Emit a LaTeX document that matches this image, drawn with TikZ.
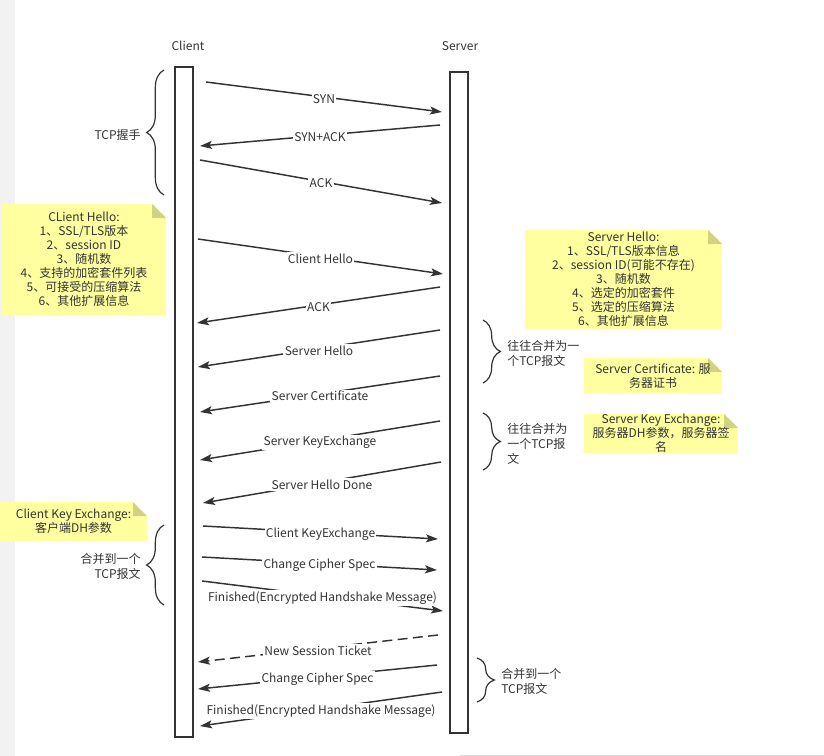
\documentclass[tikz,border=0pt]{standalone}
\usepackage{fontspec}
\setmainfont{Noto Sans CJK SC}
\usetikzlibrary{arrows.meta,decorations.pathreplacing}
\definecolor{ink}{HTML}{333333}
\definecolor{notefill}{HTML}{FFFFA0}
\definecolor{notefold}{HTML}{D2D284}
\definecolor{strip}{HTML}{F2F2F2}

\begin{document}
\begin{tikzpicture}[x=0.75pt, y=-0.75pt,
    font=\fontsize{9}{11}\selectfont, text=ink,
    lifeline/.style={draw=ink, line width=1.1pt, minimum width=13.5pt, inner sep=0pt},
    msg/.style={draw=ink, line width=1.1pt, -{Stealth[length=9pt, width=6pt, inset=2pt]}},
    msglabel/.style={midway, fill=white, inner sep=1pt, yshift=-1.5pt},
    note/.style={fill=notefill, inner sep=0pt, align=center,
      font=\fontsize{9}{10.5}\selectfont,
      path picture={
        \coordinate (ne) at (path picture bounding box.north east);
        \fill[white] (ne) -- ++(-10.5pt,0) -- ++(10.5pt,-10.5pt) -- cycle;
        \fill[notefold] (ne) ++(-10.5pt,0) -- ++(0,-10.5pt) -- ++(10.5pt,0) -- cycle;
      }},
    bracket/.style={draw=ink, line width=0.9pt, decorate, decoration={brace, amplitude=13pt}},
    side/.style={inner sep=0pt, yshift=-1.2pt, font=\fontsize{9}{11.25}\selectfont}]
  \useasboundingbox (0,0) rectangle (824,756);
  \fill[strip] (0,0) rectangle (15,756);
  \draw[gray!30] (460,755) -- (824,755);

  % lifelines
  \node (clientname) at (188,46) {Client};
  \node (servername) at (460,46) {Server};
  \node[lifeline, minimum height=502.5pt] (client) at (184,402) {};
  \node[lifeline, minimum height=495.75pt] (server) at (459,402.5) {};

  % end points of the messages
  \coordinate (c1) at (206,82);  \coordinate (s1) at (442,112);
  \coordinate (s2) at (440,125); \coordinate (c2) at (200,146);
  \coordinate (c3) at (200,160); \coordinate (s3) at (442,203);
  \coordinate (c4) at (198,239); \coordinate (s4) at (443,274);
  \coordinate (s5) at (440,287); \coordinate (c5) at (197,323);
  \coordinate (s6) at (440,330); \coordinate (c6) at (198,367);
  \coordinate (s7) at (440,376); \coordinate (c7) at (200,412);
  \coordinate (s8) at (440,421); \coordinate (c8) at (200,460);
  \coordinate (s9) at (441,462); \coordinate (c9) at (203,503);
  \coordinate (c10) at (203,526); \coordinate (s10) at (438,539);
  \coordinate (c11) at (202,557); \coordinate (s11) at (437,570);
  \coordinate (c12) at (202,581); \coordinate (s12) at (443,611);
  \coordinate (s13) at (438,635); \coordinate (c13) at (198,662);
  \coordinate (s14) at (437,665); \coordinate (c14) at (198,689);
  \coordinate (s15) at (442,692); \coordinate (c15) at (200,726);

  % messages
  \draw[msg] (c1) -- (s1) node[msglabel] (syn) {SYN};
  \draw[msg] (s2) -- (c2) node[msglabel] (synack) {SYN+ACK};
  \draw[msg] (c3) -- (s3) node[msglabel] (ack) {ACK};
  \draw[msg] (c4) -- (s4) node[msglabel] (chello) {Client Hello};
  \draw[msg] (s5) -- (c5) node[msglabel] (ack2) {ACK};
  \draw[msg] (s6) -- (c6) node[msglabel] (shello) {Server Hello};
  \draw[msg] (s7) -- (c7) node[msglabel] (scert) {Server Certificate};
  \draw[msg] (s8) -- (c8) node[msglabel] (skex) {Server KeyExchange};
  \draw[msg] (s9) -- (c9) node[msglabel] (sdone) {Server Hello Done};
  \draw[msg] (c10) -- (s10) node[msglabel] (ckex) {Client KeyExchange};
  \draw[msg] (c11) -- (s11) node[msglabel] (cccs) {Change Cipher Spec};
  \draw[msg] (c12) -- (s12) node[msglabel] (cfin) {Finished(Encrypted Handshake Message)};
  \draw[msg, dash pattern=on 7.5pt off 4pt] (s13) -- (c13) node[msglabel] (ticket) {New Session Ticket};
  \draw[msg] (s14) -- (c14) node[msglabel] (sccs) {Change Cipher Spec};
  \draw[msg] (s15) -- (c15) node[msglabel] (sfin) {Finished(Encrypted Handshake Message)};

  % braces
  \draw[bracket] (164,195) -- (164,70);
  \node[side, anchor=east] (handshake) at (141,133) {TCP握手};
  \draw[bracket] (483,320) -- (483,383);
  \node[side, anchor=west, align=left] (merge1) at (507,352) {往往合并为一\\个TCP报文};
  \draw[bracket] (483,413) -- (483,470);
  \node[side, anchor=west, align=left] (merge2) at (507,442) {往往合并为\\一个TCP报\\文};
  \draw[bracket] (164,605) -- (164,525);
  \node[side, anchor=east, align=right] (merge3) at (141,565) {合并到一个\\TCP报文};
  \draw[bracket] (477,658) -- (477,702);
  \node[side, anchor=west, align=left] (merge4) at (501,680) {合并到一个\\TCP报文};

  % notes
  \node[note, minimum width=123pt, minimum height=83.25pt] (chnote) at (84,259.5)
    {CLient Hello:\\1、SSL/TLS版本\\2、session ID\\3、随机数\\4、支持的加密套件列表\\5、可接受的压缩算法\\6、其他扩展信息};
  \node[note, minimum width=147.75pt, minimum height=74.25pt] (shnote) at (623.5,279.5)
    {Server Hello:\\1、SSL/TLS版本信息\\2、session ID(可能不存在)\\3、随机数\\4、选定的加密套件\\5、选定的压缩算法\\6、其他扩展信息};
  \node[note, minimum width=103.5pt, minimum height=27pt] (certnote) at (653,376)
    {Server Certificate: 服\\务器证书};
  \node[note, minimum width=115.5pt, minimum height=29.25pt] (skexnote) at (661,433.5)
    {Server Key Exchange:\\服务器DH参数，服务器签\\名};
  \node[note, minimum width=110.25pt, minimum height=29.25pt] (ckexnote) at (73.5,521.5)
    {Client Key Exchange:\\客户端DH参数};
\end{tikzpicture}
\end{document}
